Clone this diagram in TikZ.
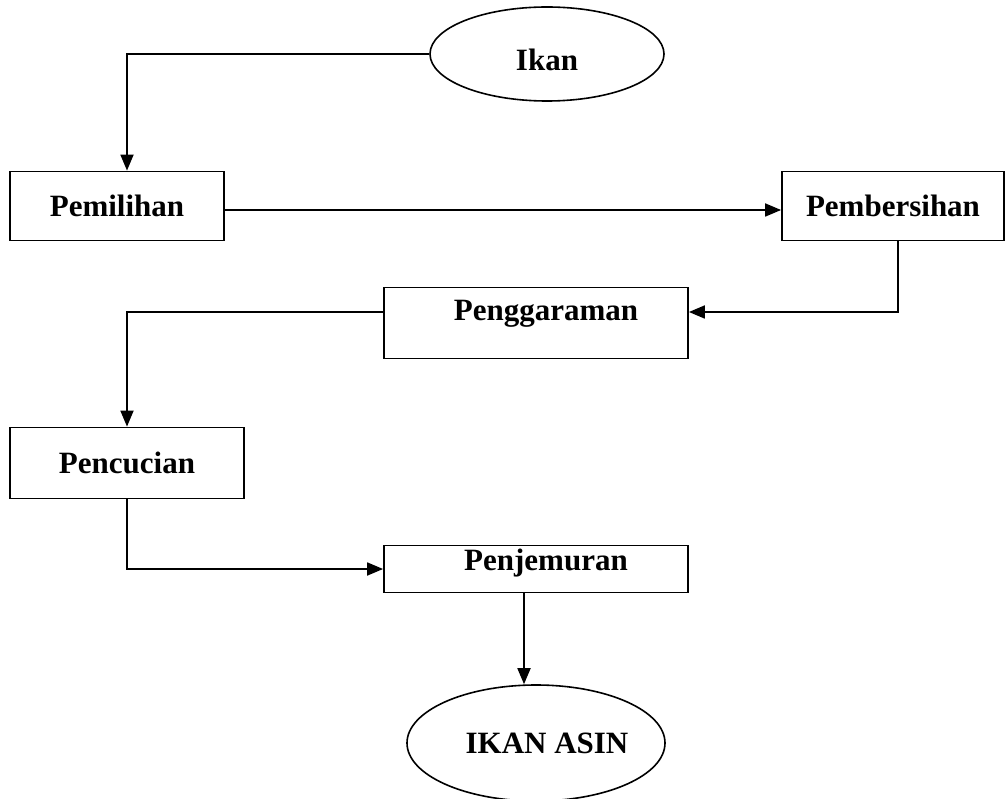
\documentclass[tikz,border=0pt]{standalone}
\usepackage{fontspec}
\setmainfont{Liberation Serif}
\usetikzlibrary{arrows.meta,shapes.geometric}

\tikzset{
  every node/.style={font=\fontsize{31}{37}\selectfont\bfseries},
  box/.style={draw, line width=1.8pt, rectangle},
  oval/.style={draw, line width=1.6pt, ellipse, inner sep=0pt},
  flow/.style={line width=1.8pt, -{Triangle[length=16pt,width=13pt]}}
}

\begin{document}
\begin{tikzpicture}[x=1pt, y=-1pt]

\useasboundingbox (0,0) rectangle (1006,799);

\node [oval, minimum width=234, minimum height=94,
       label={[yshift=-6pt]center:Ikan}] (ikan) at (547,54) {};
\node [box, minimum width=214, minimum height=69] (pemilihan) at (117,206) {Pemilihan};
\node [box, minimum width=222, minimum height=69] (pembersihan) at (893,206) {Pembersihan};
\node [box, minimum width=304, minimum height=71,
       label={[xshift=10pt, yshift=9pt]center:Penggaraman}] (penggaraman) at (536,323) {};
\node [box, minimum width=234, minimum height=71] (pencucian) at (127,463) {Pencucian};
\node [box, minimum width=304, minimum height=47,
       label={[xshift=10pt, yshift=6pt]center:Penjemuran}] (penjemuran) at (536,569) {};
\node [oval, minimum width=258, minimum height=116,
       label={[xshift=11pt]center:IKAN ASIN}] (ikanasin) at (536,743) {};

\draw [flow] (ikan.west) -| ([xshift=10pt]pemilihan.north);
\draw [flow] ([yshift=-4pt]pemilihan.east) -- ([yshift=-4pt]pembersihan.west);
\draw [flow] ([xshift=5pt]pembersihan.south) |- ([yshift=11pt]penggaraman.east);
\draw [flow] ([yshift=11pt]penggaraman.west) -| (pencucian.north);
\draw [flow] (pencucian.south) |- (penjemuran.west);
\draw [flow] ([xshift=-12pt]penjemuran.south) -- ([xshift=-12pt]ikanasin.north);

\end{tikzpicture}
\end{document}
